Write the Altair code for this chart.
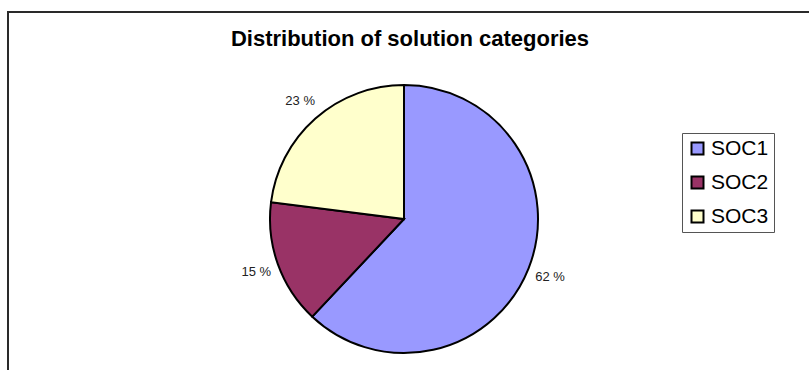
import altair as alt
import pandas as pd

categories = ["SOC1", "SOC2", "SOC3"]
shares = [62, 15, 23]
pct_labels = ["62 %", "15 %", "23 %"]
colors = ["#9999FF", "#993366", "#FFFFCC"]
title_text = "Distribution of solution categories"

df = pd.DataFrame({
    "cat": categories,
    "share": shares,
    "label": pct_labels,
    "idx": list(range(len(categories))),
})

FONT = "Liberation Sans"

frame = alt.Chart(pd.DataFrame({"a": [0]})).mark_rect(
    fill="transparent", stroke="#2a2a2a", strokeWidth=2
).encode(
    x=alt.value(8), x2=alt.value(900), y=alt.value(12), y2=alt.value(500)
)

title = alt.Chart(pd.DataFrame({"t": [title_text]})).mark_text(
    font=FONT, fontSize=22, fontWeight="bold", color="black",
    align="center", baseline="alphabetic"
).encode(x=alt.value(410), y=alt.value(46), text="t:N")

base = alt.Chart(df).encode(
    theta=alt.Theta("share:Q", stack=True),
    order=alt.Order("idx:Q", sort="ascending"),
    x=alt.value(404),
    y=alt.value(219),
)

pie = base.mark_arc(radius=134, stroke="black", strokeWidth=2).encode(
    color=alt.Color(
        "cat:N",
        scale=alt.Scale(domain=categories, range=colors),
        legend=alt.Legend(
            title=None,
            orient="none",
            legendX=682,
            legendY=133,
            padding=5,
            rowPadding=12,
            symbolType="square",
            symbolSize=144,
            symbolStrokeColor="black",
            symbolStrokeWidth=2,
            symbolOpacity=1,
            labelFont=FONT,
            labelFontSize=21,
            labelColor="black",
            labelOffset=3,
            strokeColor="#555555",
            fillColor="white",
        ),
    )
)

labels = base.mark_text(
    radius=157, font=FONT, fontSize=13, color="#222222",
    align="center", baseline="middle"
).encode(text="label:N", detail="cat:N")

chart = alt.layer(frame, title, pie, labels).properties(
    width=809, height=370,
    autosize=alt.AutoSizeParams(type="none"),
    padding=0,
    background="white",
).configure_view(stroke=None)

chart.save("out.html", embed_options={"renderer": "svg", "actions": False})
